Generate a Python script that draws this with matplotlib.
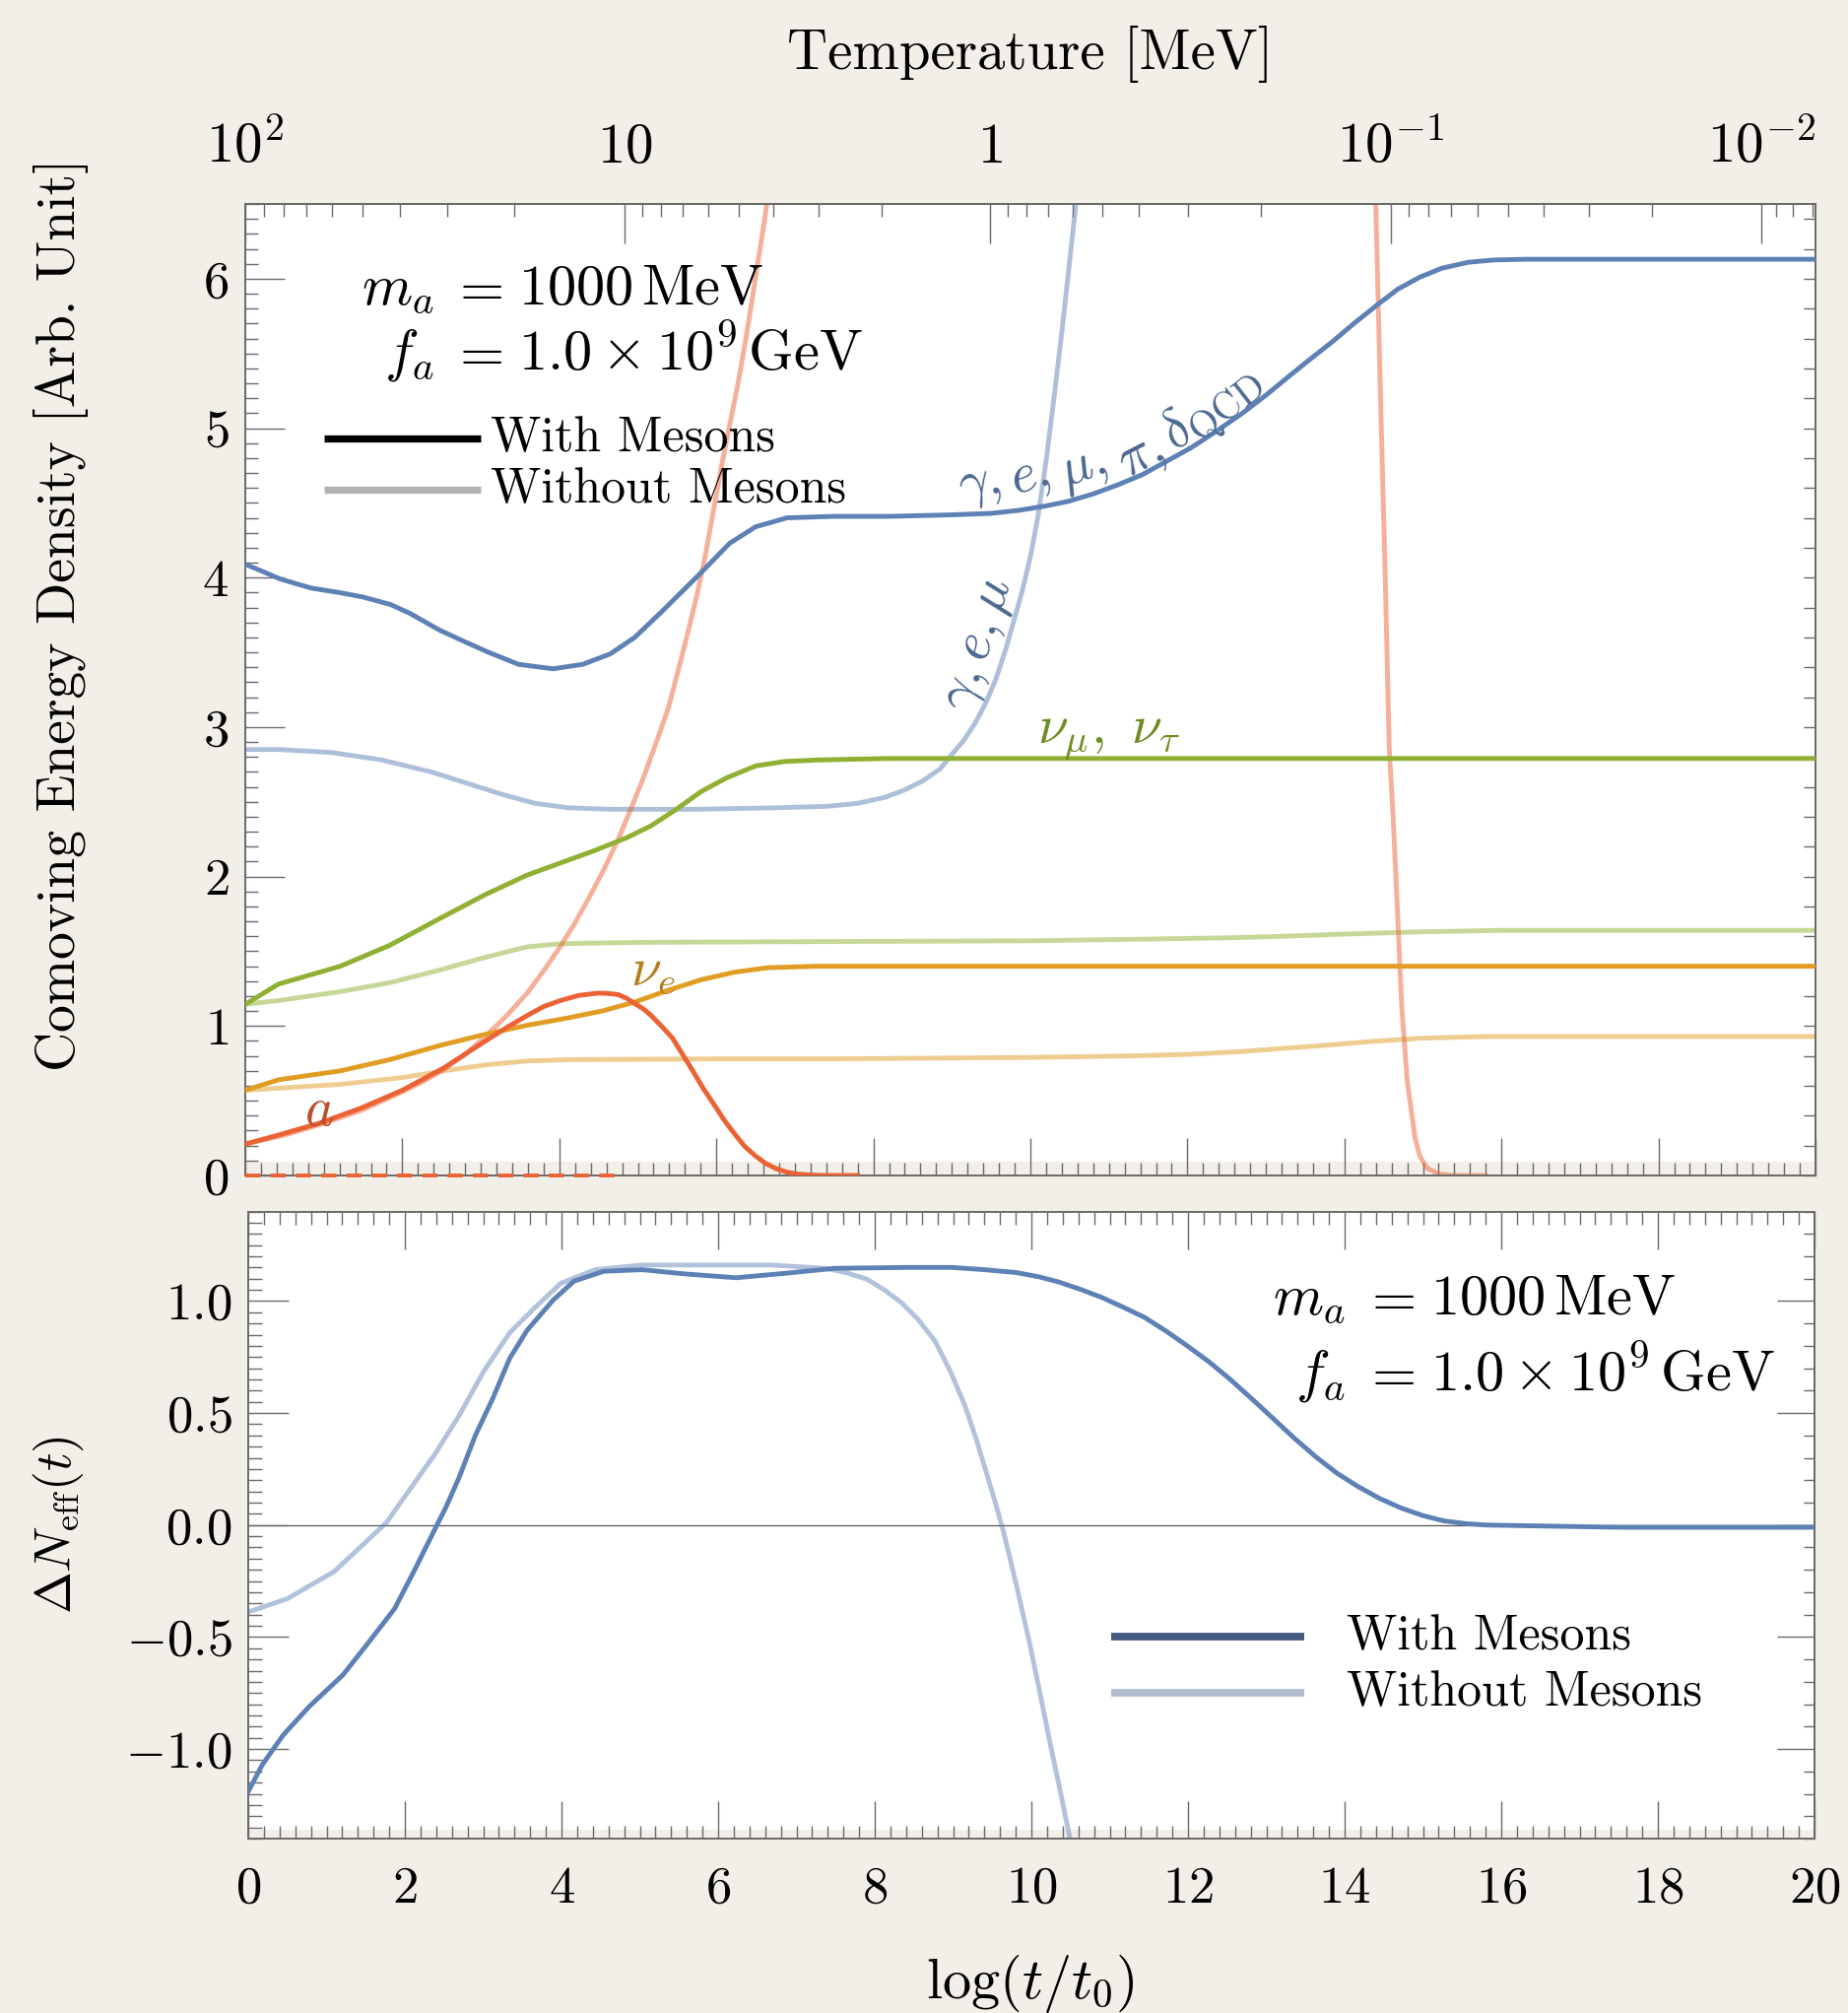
import numpy as np
import matplotlib
matplotlib.use("Agg")
import matplotlib.pyplot as plt
from matplotlib.ticker import FixedLocator, MultipleLocator, FuncFormatter, NullFormatter, FixedFormatter

plt.rcParams["mathtext.fontset"] = "cm"
plt.rcParams["font.family"] = "serif"
plt.rcParams["font.serif"] = ["cmr10"]
plt.rcParams["axes.formatter.use_mathtext"] = True

# ---------------- data ----------------
# log(t/t0) <-> temperature relation used for the top axis
temp_axis_logt = [-5.0, 0.0, 0.235, 1.97, 3.43, 4.83, 6.28, 8.11, 9.49, 11.38, 12.01, 12.93,
                  14.59, 16.09, 17.92, 19.31, 19.96, 25.0]
temp_axis_log10T = [3.0, 2.0, 1.954, 1.602, 1.301, 1.0, 0.699, 0.301, 0.0, -0.398, -0.523, -0.699,
                    -1.0, -1.301, -1.699, -2.0, -2.155, -3.3]

# comoving energy densities, with mesons
photon_x = [0, 0.45, 0.84, 1.2, 1.5, 1.85, 2.1, 2.47, 2.8, 3.1, 3.48, 3.92, 4.3, 4.65, 4.96, 5.3,
            5.78, 6.17, 6.5, 6.9, 7.5, 8.2, 9.0, 9.5, 9.85, 10.2, 10.48, 10.8, 11.11, 11.43,
            11.74, 12.05, 12.37, 12.7, 13.0, 13.3, 13.56, 13.85, 14.12, 14.43, 14.68, 14.96,
            15.24, 15.58, 15.9, 16.3, 20.0]
photon_y = [4.09, 3.99, 3.93, 3.90, 3.87, 3.82, 3.76, 3.65, 3.57, 3.50, 3.42, 3.39, 3.42, 3.49,
            3.60, 3.77, 4.02, 4.23, 4.34, 4.40, 4.41, 4.41, 4.42, 4.43, 4.45, 4.48, 4.51, 4.56,
            4.62, 4.69, 4.78, 4.87, 4.98, 5.10, 5.22, 5.35, 5.46, 5.58, 5.70, 5.83, 5.93, 6.01,
            6.07, 6.11, 6.125, 6.13, 6.13]
numu_x = [0, 0.42, 1.21, 1.84, 2.48, 3.06, 3.59, 4.01, 4.43, 4.86, 5.17, 5.49, 5.81, 6.13, 6.50,
          6.87, 7.29, 8.18, 20.0]
numu_y = [1.145, 1.28, 1.40, 1.54, 1.72, 1.88, 2.01, 2.09, 2.17, 2.26, 2.34, 2.45, 2.57, 2.66,
          2.74, 2.77, 2.78, 2.79, 2.79]
nue_x = [0, 0.42, 1.21, 1.84, 2.48, 3.06, 3.59, 4.12, 4.54, 4.96, 5.39, 5.81, 6.23, 6.65, 7.29,
         8.18, 20.0]
nue_y = [0.57, 0.64, 0.70, 0.775, 0.87, 0.945, 1.005, 1.055, 1.10, 1.16, 1.24, 1.31, 1.36, 1.39,
         1.40, 1.40, 1.40]
axion_x = [0, 0.42, 0.945, 1.47, 2.0, 2.53, 3.06, 3.33, 3.59, 3.8, 4.01, 4.25, 4.49, 4.62, 4.75,
           4.86, 4.96, 5.07, 5.17, 5.3, 5.44, 5.57, 5.70, 5.83, 5.97, 6.1, 6.23, 6.36, 6.50,
           6.63, 6.76, 6.9, 7.02, 7.2, 7.39, 7.8]
axion_y = [0.21, 0.27, 0.35, 0.45, 0.57, 0.72, 0.90, 0.99, 1.07, 1.13, 1.17, 1.205, 1.22, 1.218,
           1.21, 1.185, 1.15, 1.115, 1.07, 1.00, 0.92, 0.81, 0.70, 0.585, 0.475, 0.37, 0.28,
           0.195, 0.13, 0.08, 0.046, 0.022, 0.01, 0.003, 0.0, 0.0]
axion_zero_x = [0.0, 4.83]

# comoving energy densities, without mesons
photon_nm_x = [0, 0.42, 1.1, 1.74, 2.37, 2.85, 3.27, 3.69, 4.12, 4.65, 5.7, 6.76, 7.42, 7.8,
               8.15, 8.4, 8.63, 8.85, 9.02, 9.15, 9.30, 9.43, 9.56, 9.68, 9.80, 9.9, 10.0, 10.1,
               10.2, 10.3, 10.4, 10.48, 10.58, 10.62]
photon_nm_y = [2.85, 2.85, 2.83, 2.78, 2.70, 2.62, 2.55, 2.49, 2.46, 2.45, 2.45, 2.46, 2.47,
               2.49, 2.53, 2.58, 2.64, 2.72, 2.83, 2.91, 3.03, 3.16, 3.32, 3.51, 3.73, 3.92,
               4.14, 4.42, 4.78, 5.20, 5.64, 6.02, 6.50, 6.70]
numu_nm_x = [0, 0.42, 1.21, 1.84, 2.48, 3.06, 3.59, 4.01, 4.43, 5.17, 7.42, 10.0, 11.27, 12.5,
             13.19, 14.0, 14.96, 16.0, 20.0]
numu_nm_y = [1.145, 1.17, 1.23, 1.29, 1.375, 1.46, 1.53, 1.55, 1.555, 1.56, 1.565, 1.57, 1.58,
             1.59, 1.60, 1.615, 1.63, 1.64, 1.64]
nue_nm_x = [0, 1.21, 2.0, 2.53, 3.06, 3.59, 4.12, 6.0, 7.42, 10.0, 11.27, 12.0, 12.71, 13.2,
            13.67, 14.3, 14.96, 15.8, 20.0]
nue_nm_y = [0.57, 0.61, 0.655, 0.70, 0.74, 0.766, 0.775, 0.78, 0.78, 0.79, 0.80, 0.81, 0.83,
            0.85, 0.867, 0.895, 0.918, 0.93, 0.93]
axion_nm_rise_x = [0, 0.5, 0.95, 1.5, 2.0, 2.27, 2.53, 2.8, 3.06, 3.33, 3.59, 3.8, 4.01, 4.2,
                   4.38, 4.57, 4.75, 4.91, 5.07, 5.23, 5.39, 5.52, 5.65, 5.76, 5.86, 5.96, 6.06,
                   6.17, 6.28, 6.37, 6.45, 6.52, 6.59, 6.70]
axion_nm_rise_y = [0.21, 0.27, 0.34, 0.44, 0.56, 0.63, 0.71, 0.81, 0.93, 1.07, 1.22, 1.37, 1.53,
                   1.69, 1.86, 2.05, 2.25, 2.45, 2.66, 2.89, 3.13, 3.39, 3.66, 3.90, 4.15, 4.44,
                   4.73, 5.02, 5.31, 5.58, 5.84, 6.08, 6.31, 6.70]
axion_nm_fall_x = [14.36, 14.40, 14.46, 14.52, 14.57, 14.62, 14.66, 14.73, 14.80, 14.90, 14.96,
                   15.05, 15.2, 15.4, 15.8]
axion_nm_fall_y = [6.7, 6.49, 5.2, 4.0, 2.87, 2.4, 1.95, 1.13, 0.63, 0.25, 0.13, 0.05, 0.01, 0.0,
                   0.0]

# Delta N_eff
dneff_x = [0, 0.18, 0.45, 0.78, 1.21, 1.49, 1.87, 2.14, 2.41, 2.52, 2.69, 2.90, 3.12, 3.34, 3.56,
           3.89, 4.16, 4.54, 5.03, 5.58, 6.23, 6.83, 7.49, 8.40, 8.99, 9.4, 9.81, 10.1, 10.35,
           10.62, 10.90, 11.17, 11.45, 11.72, 11.99, 12.27, 12.54, 12.81, 13.08, 13.35, 13.63,
           13.9, 14.17, 14.45, 14.72, 15.0, 15.26, 15.55, 15.81, 16.45, 17.5, 20.0]
dneff_y = [-1.19, -1.07, -0.936, -0.81, -0.669, -0.545, -0.373, -0.19, 0.0, 0.076, 0.21, 0.40,
           0.563, 0.745, 0.869, 1.003, 1.089, 1.133, 1.14, 1.121, 1.104, 1.123, 1.146, 1.15,
           1.15, 1.14, 1.127, 1.108, 1.085, 1.053, 1.016, 0.973, 0.926, 0.866, 0.80, 0.728,
           0.65, 0.565, 0.478, 0.39, 0.305, 0.232, 0.172, 0.118, 0.076, 0.042, 0.019, 0.006,
           0.0, -0.004, -0.01, -0.01]
dneff_nm_x = [0, 0.50, 1.10, 1.76, 2.39, 2.69, 3.01, 3.34, 3.67, 3.99, 4.43, 5.03, 5.85, 6.67,
              7.38, 7.65, 7.90, 8.12, 8.34, 8.55, 8.77, 8.96, 9.15, 9.29, 9.43, 9.54, 9.65,
              9.81, 9.97, 10.11, 10.25, 10.37, 10.49]
dneff_nm_y = [-0.388, -0.329, -0.207, 0.009, 0.32, 0.487, 0.688, 0.859, 0.974, 1.079, 1.14,
              1.161, 1.161, 1.161, 1.146, 1.125, 1.098, 1.05, 0.993, 0.92, 0.821, 0.69, 0.535,
              0.39, 0.229, 0.10, -0.038, -0.27, -0.516, -0.75, -0.993, -1.19, -1.395]

temp_major = [100, 10, 1, 0.1, 0.01]
temp_major_labels = [r"$10^2$", r"$10$", r"$1$", r"$10^{-1}$", r"$10^{-2}$"]

# ---------------- style ----------------
PAPER = "#f2efe8"
FRAME = "#6a6a6a"
BLUE, ORANGE, GREEN, RED = "#5e81b5", "#e19c24", "#8fb032", "#eb6235"
PALE = 0.5
W, H = 1876, 2043
PT = 72 / 100.0  # pixels -> points at dpi 100

fig = plt.figure(figsize=(W / 100, H / 100), dpi=100, facecolor=PAPER)
ax1 = fig.add_axes([249 / W, 1 - 1193 / H, (1843 - 249) / W, (1193 - 207) / H])
ax2 = fig.add_axes([252 / W, 1 - 1866 / H, (1842 - 252) / W, (1866 - 1229.5) / H])

TICK_FS = 38
for ax in (ax1, ax2):
    ax.set_facecolor("white")
    for s in ax.spines.values():
        s.set_color(FRAME)
        s.set_linewidth(1.4)
    ax.set_xlim(0, 20)
    ax.xaxis.set_major_locator(MultipleLocator(2))
    ax.xaxis.set_minor_locator(MultipleLocator(0.2))
    ax.tick_params(axis="both", which="both", direction="in", colors=FRAME, width=1.0,
                   labelcolor="black", labelsize=TICK_FS)
    ax.tick_params(axis="x", which="major", length=38 * PT)
    ax.tick_params(axis="x", which="minor", length=13 * PT)

LW = 3.5

# ---------------- upper panel ----------------
ax1.set_ylim(0, 6.5)
ax1.axhspan(0, 0.095, color=PAPER, lw=0, zorder=0.5)
ax1.yaxis.set_major_locator(MultipleLocator(1))
ax1.yaxis.set_minor_locator(MultipleLocator(0.1))
ax1.yaxis.set_major_formatter(FuncFormatter(lambda v, p: r"$%d$" % round(v)))
ax1.tick_params(axis="y", which="major", length=40 * PT, pad=12)
ax1.tick_params(axis="y", which="minor", length=13 * PT)
ax1.tick_params(axis="x", labelbottom=False, top=False)

ax1.plot(photon_nm_x, photon_nm_y, color=BLUE, alpha=PALE, lw=LW, zorder=2)
ax1.plot(numu_nm_x, numu_nm_y, color=GREEN, alpha=PALE, lw=LW, zorder=2)
ax1.plot(nue_nm_x, nue_nm_y, color=ORANGE, alpha=PALE, lw=LW, zorder=2)
ax1.plot(axion_nm_rise_x, axion_nm_rise_y, color=RED, alpha=PALE, lw=LW, zorder=2)
ax1.plot(axion_nm_fall_x, axion_nm_fall_y, color=RED, alpha=PALE, lw=LW, zorder=2)
ax1.plot(photon_x, photon_y, color=BLUE, lw=LW, zorder=3)
ax1.plot(numu_x, numu_y, color=GREEN, lw=LW, zorder=3)
ax1.plot(nue_x, nue_y, color=ORANGE, lw=LW, zorder=3)
ax1.plot(axion_x, axion_y, color=RED, lw=LW, zorder=3)
ax1.plot(axion_zero_x, [0, 0], color=RED, lw=2.8, ls=(0, (4.0, 2.6)), zorder=6,
         clip_on=False)

# temperature axis on top
def t_to_temp(x):
    x = np.asarray(x, dtype=float)
    return 10.0 ** np.interp(x, temp_axis_logt, temp_axis_log10T)


def temp_to_t(T):
    T = np.clip(np.asarray(T, dtype=float), 1e-12, None)
    return np.interp(np.log10(T), temp_axis_log10T[::-1], temp_axis_logt[::-1])


sec = ax1.secondary_xaxis("top", functions=(t_to_temp, temp_to_t))
temp_minor = [k * 10.0 ** e for e in range(-3, 2) for k in range(2, 10)
              if 0.0068 < k * 10.0 ** e < 100]
sec.xaxis.set_major_locator(FixedLocator(temp_major))
sec.xaxis.set_major_formatter(FixedFormatter(temp_major_labels))
sec.xaxis.set_minor_locator(FixedLocator(temp_minor))
sec.xaxis.set_minor_formatter(NullFormatter())
sec.tick_params(axis="x", which="both", direction="in", colors=FRAME, width=1.0,
                labelcolor="black", labelsize=41, pad=22)
sec.tick_params(axis="x", which="major", length=40 * PT)
sec.tick_params(axis="x", which="minor", length=13 * PT)
sec.spines["top"].set_color(FRAME)
sec.spines["top"].set_linewidth(1.4)
fig.text(1046 / W, 1 - 55 / H, "Temperature [MeV]", fontsize=41, ha="center", va="center")

# right-hand ticks of the upper panel
secr1 = ax1.secondary_yaxis("right", functions=(lambda y: y, lambda y: y))
secr1.yaxis.set_major_locator(MultipleLocator(0.2))
secr1.yaxis.set_major_formatter(NullFormatter())
secr1.tick_params(axis="y", which="both", direction="in", colors=FRAME, width=1.0, length=12 * PT)
secr1.spines["right"].set_color(FRAME)
secr1.spines["right"].set_linewidth(1.4)


def param_block(ax, x_lhs, x_eq, x_rhs, y_top, y_bot):
    ax.text(x_lhs, y_top, r"$m_a$", fontsize=42, ha="right", va="baseline")
    ax.text(x_eq, y_top, r"$=$", fontsize=42, ha="center", va="baseline")
    ax.text(x_rhs, y_top, r"$1000\,\mathrm{MeV}$", fontsize=42, ha="left", va="baseline")
    ax.text(x_lhs, y_bot, r"$f_a$", fontsize=42, ha="right", va="baseline")
    ax.text(x_eq, y_bot, r"$=$", fontsize=42, ha="center", va="baseline")
    ax.text(x_rhs, y_bot, r"$1.0\times10^9\,\mathrm{GeV}$", fontsize=42, ha="left",
            va="baseline")


param_block(ax1, 2.41, 2.94, 3.48, 5.83, 5.39)

ax1.plot([1.0, 3.0], [4.93, 4.93], color="black", lw=5.2, solid_capstyle="butt", zorder=4)
ax1.plot([1.0, 3.0], [4.585, 4.585], color="#b3b3b3", lw=5.2, solid_capstyle="butt", zorder=4)
ax1.text(3.12, 4.93, "With Mesons", fontsize=36, ha="left", va="center")
ax1.text(3.12, 4.585, "Without Mesons", fontsize=36, ha="left", va="center")

LBL_BLUE, LBL_GREEN, LBL_ORANGE, LBL_RED = "#4b6791", "#6f8c22", "#b47d1d", "#bc4e2a"
for s, x, y, r in [(r"$\gamma,$", 9.36, 4.61, 12), (r"$e,$", 10.0, 4.67, 15),
                   (r"$\mu,$", 10.67, 4.72, 20), (r"$\pi,$", 11.41, 4.80, 27),
                   (r"$\delta_{\rm QCD}$", 12.32, 5.13, 38)]:
    ax1.text(x, y, s, fontsize=40, color=LBL_BLUE, ha="center", va="center",
             rotation=r, rotation_mode="anchor")
ax1.text(9.36, 3.55, r"$\gamma, e, \mu$", fontsize=40, color=LBL_BLUE, ha="center",
         va="center", rotation=72, rotation_mode="anchor")
ax1.text(11.0, 2.89, r"$\nu_\mu,\ \nu_\tau$", fontsize=40, color=LBL_GREEN, ha="center",
         va="baseline")
ax1.text(5.2, 1.36, r"$\nu_e$", fontsize=40, color=LBL_ORANGE, ha="center", va="center")
ax1.text(0.94, 0.43, r"$a$", fontsize=40, color=LBL_RED, ha="center", va="center")

fig.text(62 / W, 1 - 624 / H, "Comoving Energy Density [Arb. Unit]", fontsize=40,
         rotation=90, ha="center", va="center")

# ---------------- lower panel ----------------
ax2.set_ylim(-1.4, 1.4)
ax2.axhspan(-1.4, -1.36, color=PAPER, lw=0, zorder=0.5)
ax2.yaxis.set_major_locator(MultipleLocator(0.5))
ax2.yaxis.set_minor_locator(MultipleLocator(0.05))
ax2.yaxis.set_major_formatter(FuncFormatter(lambda v, p: r"$%.1f$" % v))
ax2.xaxis.set_major_formatter(FuncFormatter(lambda v, p: r"$%d$" % round(v)))
ax2.tick_params(axis="y", which="major", length=41 * PT, pad=12)
ax2.tick_params(axis="y", which="minor", length=14 * PT)
ax2.tick_params(axis="x", which="both", top=True, pad=20)
ax2.axhline(0, color="#555555", lw=0.9, zorder=1)

ax2.plot(dneff_nm_x, dneff_nm_y, color=BLUE, alpha=0.48, lw=LW, zorder=2)
ax2.plot(dneff_x, dneff_y, color=BLUE, lw=LW, zorder=3)

secr2 = ax2.secondary_yaxis("right", functions=(lambda y: y, lambda y: y))
secr2.yaxis.set_major_locator(MultipleLocator(0.5))
secr2.yaxis.set_minor_locator(MultipleLocator(0.1))
secr2.yaxis.set_major_formatter(NullFormatter())
secr2.tick_params(axis="y", which="both", direction="in", colors=FRAME, width=1.0)
secr2.tick_params(axis="y", which="major", length=38 * PT)
secr2.tick_params(axis="y", which="minor", length=11 * PT)
secr2.spines["right"].set_color(FRAME)
secr2.spines["right"].set_linewidth(1.4)

param_block(ax2, 14.01, 14.55, 15.09, 0.94, 0.60)

ax2.plot([11.02, 13.48], [-0.50, -0.50], color="#445a80", lw=5.6, solid_capstyle="butt")
ax2.plot([11.02, 13.48], [-0.75, -0.75], color="#b0bbcc", lw=5.6, solid_capstyle="butt")
ax2.text(14.02, -0.50, "With Mesons", fontsize=36, ha="left", va="center")
ax2.text(14.02, -0.75, "Without Mesons", fontsize=36, ha="left", va="center")

fig.text(1046 / W, 1 - 2013 / H, r"$\log(t/t_0)$", fontsize=42, ha="center", va="center")
fig.text(59 / W, 1 - 1548 / H, r"$\Delta N_{\rm eff}(t)$", fontsize=37, rotation=90,
         ha="center", va="center")

fig.savefig("out.png", dpi=100, facecolor=PAPER)
